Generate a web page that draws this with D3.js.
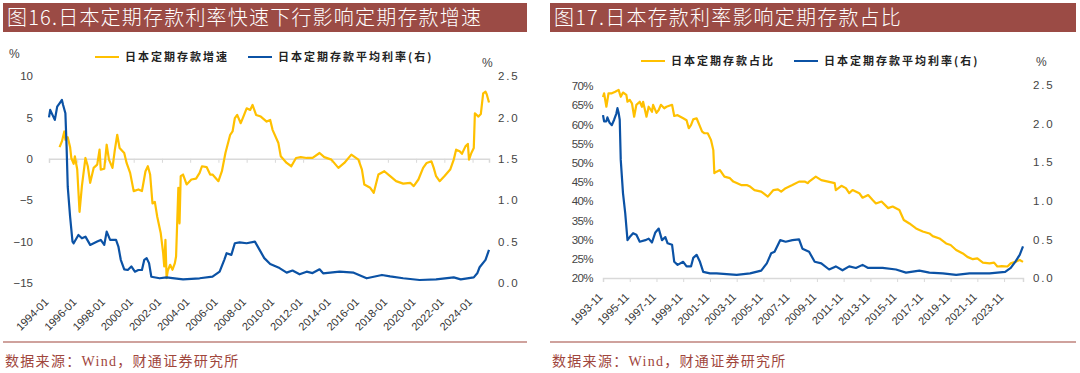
<!DOCTYPE html>
<html><head><meta charset="utf-8">
<script src="https://cdn.jsdelivr.net/npm/d3@7"></script>
<style>
body{margin:0;background:#fff;}
svg{display:block;}
</style></head><body>
<svg id="c" width="1080" height="373"></svg>
<script>
// ---------- texts ----------
const leftTitle = "图16.日本定期存款利率快速下行影响定期存款增速";
const rightTitle = "图17.日本存款利率影响定期存款占比";
const leftLegend = ["日本定期存款增速", "日本定期存款平均利率(右)"];
const rightLegend = ["日本定期存款占比", "日本定期存款平均利率(右)"];
const sourceText = "数据来源：Wind，财通证券研究所";

// ---------- tick labels ----------
const leftXTicks = ["1994-01","1996-01","1998-01","2000-01","2002-01","2004-01","2006-01","2008-01","2010-01","2012-01","2014-01","2016-01","2018-01","2020-01","2022-01","2024-01"];
const rightXTicks = ["1993-11","1995-11","1997-11","1999-11","2001-11","2003-11","2005-11","2007-11","2009-11","2011-11","2013-11","2015-11","2017-11","2019-11","2021-11","2023-11"];
const growthTicks = [10, 5, 0, -5, -10, -15];
const rateTicks = [0, 0.5, 1, 1.5, 2, 2.5];
const shareTicks = [20, 25, 30, 35, 40, 45, 50, 55, 60, 65, 70];

// ---------- series (left chart) ----------
const depositGrowth = [["1994-10",1.4],["1994-12",2.1],["1995-02",3.3],["1995-03",2.3],["1995-05",2.6],["1995-07",1.4],["1995-08",0.1],["1995-10",-0.6],["1995-11",0.3],["1996-01",-1.3],["1996-03",-6.4],["1996-05",-3.3],["1996-08",0.1],["1996-10",-0.9],["1996-12",-2.9],["1997-03",-1.1],["1997-06",-0.7],["1997-08",1.1],["1997-09",-1.3],["1997-12",-1.2],["1998-02",1.7],["1998-04",-0.1],["1998-07",-1.1],["1998-09",1.1],["1998-11",2.9],["1999-01",1.3],["1999-05",0.7],["1999-07",-0.5],["1999-10",-1.7],["2000-01",-3.9],["2000-05",-3.7],["2000-08",-3.9],["2000-09",-3.1],["2000-11",-1.5],["2001-01",-0.9],["2001-03",-1.9],["2001-05",-5.4],["2001-07",-5.2],["2001-09",-7.0],["2001-12",-9.0],["2002-02",-11.4],["2002-03",-13.0],["2002-04",-9.8],["2002-05",-14.4],["2002-06",-13.5],["2002-08",-12.8],["2002-10",-13.4],["2002-12",-12.6],["2003-01",-11.8],["2003-03",-3.5],["2003-04",-7.8],["2003-05",-2.1],["2003-07",-1.9],["2003-10",-3.1],["2004-02",-2.5],["2004-06",-2.4],["2004-09",-1.7],["2004-11",-0.9],["2005-03",-1.0],["2005-06",-1.9],["2005-08",-1.9],["2006-01",-2.7],["2006-04",-1.5],["2006-07",0.7],["2006-11",2.9],["2007-01",3.3],["2007-03",4.9],["2007-05",5.3],["2007-08",4.3],["2007-10",5.0],["2008-01",6.1],["2008-04",5.9],["2008-06",6.5],["2008-09",5.3],["2009-01",5.1],["2009-06",4.5],["2009-09",4.7],["2009-11",3.5],["2010-04",1.9],["2010-06",0.3],["2010-11",-0.5],["2011-03",-0.9],["2011-07",0.1],["2011-11",0.2],["2012-04",0.1],["2012-09",0.1],["2013-03",0.7],["2013-07",0.2],["2014-01",-0.1],["2014-07",-1.1],["2014-12",-0.5],["2015-06",0.5],["2015-12",-0.1],["2016-03",-1.3],["2016-05",-3.1],["2016-10",-3.5],["2017-01",-4.1],["2017-05",-1.9],["2017-10",-1.5],["2018-03",-2.1],["2018-08",-2.7],["2019-02",-3.0],["2019-08",-2.9],["2019-11",-3.3],["2020-03",-2.5],["2020-07",-1.1],["2020-10",-0.5],["2021-02",-0.3],["2021-04",-1.1],["2021-06",-2.1],["2021-09",-2.7],["2022-01",-2.1],["2022-06",-1.3],["2022-09",-0.1],["2022-11",1.1],["2023-02",0.9],["2023-04",0.6],["2023-07",1.5],["2023-09",1.8],["2023-10",-0.1],["2023-12",0.7],["2024-02",1.3],["2024-03",5.5],["2024-06",5.1],["2024-08",5.4],["2024-10",7.9],["2024-12",8.1],["2025-01",7.8],["2025-03",6.8]];
const leftRate = [["1994-01",2.00],["1994-02",2.09],["1994-04",2.03],["1994-06",1.97],["1994-08",2.13],["1994-10",2.17],["1994-12",2.21],["1995-01",2.15],["1995-03",2.05],["1995-04",1.65],["1995-05",1.16],["1995-07",0.80],["1995-09",0.50],["1995-10",0.48],["1996-02",0.58],["1996-05",0.54],["1996-08",0.56],["1996-12",0.46],["1997-06",0.50],["1997-09",0.52],["1997-12",0.46],["1998-02",0.62],["1998-05",0.52],["1998-10",0.52],["1998-12",0.44],["1999-02",0.28],["1999-05",0.165],["1999-08",0.157],["1999-11",0.20],["2000-02",0.137],["2000-05",0.157],["2000-08",0.157],["2000-10",0.28],["2000-12",0.30],["2001-02",0.24],["2001-04",0.076],["2001-11",0.057],["2002-05",0.068],["2002-10",0.06],["2003-07",0.044],["2004-09",0.057],["2005-08",0.076],["2006-02",0.137],["2006-06",0.28],["2006-08",0.36],["2006-12",0.34],["2007-03",0.48],["2007-07",0.49],["2008-01",0.48],["2008-08",0.50],["2008-12",0.40],["2009-04",0.30],["2009-09",0.23],["2010-05",0.18],["2010-11",0.125],["2011-04",0.15],["2011-10",0.105],["2012-04",0.137],["2012-09",0.12],["2013-03",0.165],["2013-06",0.117],["2014-08",0.137],["2015-08",0.125],["2016-07",0.057],["2017-08",0.097],["2018-03",0.08],["2019-02",0.057],["2020-04",0.036],["2021-06",0.044],["2022-09",0.068],["2023-03",0.044],["2024-02",0.068],["2024-05",0.117],["2024-07",0.19],["2024-12",0.28],["2025-03",0.40]];

// ---------- series (right chart) ----------
const depositShare = [["1993-11",67.1],["1993-12",68.1],["1994-02",64.6],["1994-04",68.1],["1994-07",68.1],["1994-10",68.5],["1995-01",69.0],["1995-03",67.2],["1995-05",68.3],["1995-08",67.7],["1995-09",65.9],["1995-11",66.4],["1996-01",65.5],["1996-03",62.0],["1996-05",65.1],["1996-08",65.9],["1996-10",64.6],["1996-11",65.9],["1997-02",62.0],["1997-04",64.6],["1997-07",63.3],["1997-08",65.1],["1997-11",63.0],["1998-01",63.75],["1998-03",65.1],["1998-06",64.2],["1998-08",64.6],["1999-01",65.1],["1999-03",62.2],["1999-06",62.4],["1999-11",61.6],["2000-02",61.1],["2000-04",59.0],["2000-06",59.8],["2000-08",61.3],["2000-11",61.6],["2001-04",58.1],["2001-06",57.7],["2001-09",57.7],["2001-12",55.9],["2002-02",53.3],["2002-03",47.3],["2002-05",47.7],["2002-08",48.1],["2002-12",46.4],["2003-05",46.0],["2003-08",45.1],["2004-03",44.2],["2004-08",44.2],["2004-11",43.8],["2005-03",42.9],["2005-09",42.5],["2006-03",41.2],["2006-08",42.9],["2006-12",43.1],["2007-03",42.5],["2007-07",43.4],["2008-01",44.2],["2008-07",45.1],["2008-12",45.1],["2009-03",44.7],["2009-04",45.1],["2009-10",46.4],["2010-03",45.5],["2010-09",45.1],["2011-03",44.7],["2011-04",42.9],["2011-09",44.0],["2012-01",43.4],["2012-04",42.1],["2012-07",42.9],["2013-01",42.1],["2013-04",40.9],["2013-09",41.6],["2014-01",40.3],["2014-04",39.4],["2014-09",39.9],["2015-03",38.2],["2015-07",38.6],["2016-01",37.7],["2016-05",35.1],["2016-10",34.2],["2017-04",32.9],["2017-10",32.1],["2018-04",31.6],["2018-07",30.9],["2019-01",30.3],["2019-07",29.0],["2019-11",28.6],["2020-04",27.3],["2020-10",26.4],["2021-02",25.5],["2021-07",24.9],["2021-11",25.1],["2022-04",24.0],["2022-10",23.8],["2023-02",24.0],["2023-05",23.0],["2023-09",23.1],["2024-02",23.0],["2024-05",23.8],["2024-09",24.2],["2025-01",24.7],["2025-04",24.2]];
const rightRate = [["1993-11",2.11],["1993-12",2.03],["1994-02",2.03],["1994-03",2.08],["1994-05",2.01],["1994-07",1.98],["1994-09",2.05],["1994-11",2.13],["1994-12",2.20],["1995-01",2.14],["1995-02",2.05],["1995-03",1.53],["1995-05",1.10],["1995-07",0.84],["1995-09",0.49],["1995-11",0.53],["1996-02",0.58],["1996-05",0.56],["1996-08",0.47],["1997-01",0.49],["1997-04",0.51],["1997-07",0.46],["1997-10",0.59],["1998-01",0.64],["1998-04",0.49],["1998-07",0.53],["1998-09",0.45],["1999-01",0.43],["1999-03",0.21],["1999-06",0.17],["1999-11",0.21],["2000-02",0.15],["2000-06",0.15],["2000-08",0.26],["2000-11",0.30],["2001-02",0.21],["2001-05",0.08],["2001-11",0.06],["2002-05",0.06],["2003-11",0.04],["2004-11",0.06],["2005-09",0.095],["2006-02",0.19],["2006-06",0.32],["2006-09",0.34],["2007-02",0.49],["2007-07",0.47],["2008-01",0.49],["2008-07",0.50],["2008-10",0.38],["2009-04",0.34],["2009-09",0.21],["2010-03",0.19],["2010-10",0.11],["2011-04",0.15],["2011-10",0.10],["2012-04",0.15],["2012-10",0.13],["2013-04",0.17],["2013-09",0.13],["2014-10",0.13],["2015-10",0.11],["2016-07",0.07],["2017-07",0.095],["2018-04",0.07],["2019-04",0.06],["2020-04",0.04],["2021-04",0.06],["2022-10",0.06],["2023-12",0.08],["2024-05",0.13],["2024-09",0.21],["2025-01",0.30],["2025-04",0.41]];

// ---------- styles ----------
const YELLOW = "#FFC000", BLUE = "#0B52A5", BAR = "#9B4B45", SRC = "#A0463C";
const NUMFONT = "'Liberation Sans', Arial, sans-serif";
const CJK = "'Noto Sans CJK SC', sans-serif";

const parse = d3.timeParse("%Y-%m");
const fmtM = d3.timeFormat("%Y-%m");
const svg = d3.select("#c");

function header(x0, x1, title) {
  svg.append("rect").attr("x", x0).attr("y", 3).attr("width", x1 - x0).attr("height", 29).attr("fill", BAR);
  svg.append("text").attr("x", x0 + 4).attr("y", 25).attr("fill", "#fff")
    .attr("font-family", CJK).attr("font-weight", 300).attr("font-size", 20)
    .attr("letter-spacing", 1.2).text(title);
  svg.append("line").attr("x1", x0).attr("x2", x1).attr("y1", 342).attr("y2", 342)
    .attr("stroke", SRC).attr("stroke-width", 1.2);
  svg.append("text").attr("x", x0 + 2).attr("y", 366).attr("fill", SRC)
    .attr("font-family", "'Liberation Serif', 'Noto Sans CJK SC', serif").attr("font-size", 14)
    .attr("letter-spacing", 1.3).text(sourceText);
}

function legend(items, y) {
  items.forEach(it => {
    svg.append("line").attr("x1", it.x).attr("x2", it.x + 24).attr("y1", y).attr("y2", y)
      .attr("stroke", it.c).attr("stroke-width", 2);
    svg.append("text").attr("x", it.x + 30).attr("y", y + 4).attr("fill", "#222")
      .attr("font-family", CJK).attr("font-weight", 700).attr("font-size", 11)
      .attr("letter-spacing", 2).text(it.t);
  });
}

function xLabels(g, x, ticks, yPos) {
  const ax = g.append("g").attr("transform", `translate(0,${yPos})`)
    .call(d3.axisBottom(x).tickValues(ticks.map(parse)).tickSize(0).tickFormat(fmtM));
  ax.select(".domain").remove();
  ax.selectAll("text")
    .attr("font-family", NUMFONT).attr("font-size", 11).attr("fill", "#333")
    .attr("text-anchor", "end").attr("x", 0).attr("y", 0).attr("dy", "0.35em")
    .attr("transform", "translate(-3,17) rotate(-45)");
}

function yAxis(g, scale, ticks, xPos, side, fmt, spacing) {
  const gen = side === "left" ? d3.axisLeft(scale) : d3.axisRight(scale);
  const ax = g.append("g").attr("transform", `translate(${xPos},0)`)
    .call(gen.tickValues(ticks).tickSize(0).tickPadding(0).tickFormat(fmt));
  ax.select(".domain").remove();
  ax.selectAll("text").attr("font-family", NUMFONT).attr("font-size", 11.5).attr("fill", "#444")
    .attr("letter-spacing", spacing || 0);
}

const lineGen = (x, y) => d3.line().x(d => x(parse(d[0]))).y(d => y(d[1]));

// ================= LEFT CHART =================
header(3, 527, leftTitle);
legend([{x: 95, c: YELLOW, t: leftLegend[0]}, {x: 248, c: BLUE, t: leftLegend[1]}], 57);
{
  const x = d3.scaleTime().domain([parse("1994-01"), parse("2025-03")]).range([49, 489]);
  const yL = d3.scaleLinear().domain([-15, 10]).range([283, 76]);
  const yR = d3.scaleLinear().domain([0, 2.5]).range([283, 76]);
  const g = svg.append("g");
  const zx = g.append("g").attr("transform", `translate(0,${yL(0)})`)
    .call(d3.axisBottom(x).tickValues(leftXTicks.map(parse)).tickSize(4).tickFormat(""));
  zx.select(".domain").attr("stroke", "#d9d9d9").attr("stroke-width", 1.5);
  zx.selectAll("line").attr("stroke", "#d9d9d9");
  xLabels(g, x, leftXTicks, yL(-15));
  yAxis(g, yL, growthTicks, 33, "left", d3.format("d"));
  yAxis(g, yR, rateTicks, 498, "right", d3.format(".1f"), 1.8);
  g.append("text").attr("x", 9).attr("y", 58).attr("font-family", NUMFONT).attr("font-size", 12).attr("fill", "#444").text("%");
  g.append("text").attr("x", 482).attr("y", 67).attr("font-family", NUMFONT).attr("font-size", 12).attr("fill", "#444").text("%");
  g.append("path").datum(depositGrowth).attr("d", lineGen(x, yL)).attr("fill", "none").attr("stroke", YELLOW).attr("stroke-width", 2.2).attr("stroke-linejoin", "round");
  g.append("path").datum(leftRate).attr("d", lineGen(x, yR)).attr("fill", "none").attr("stroke", BLUE).attr("stroke-width", 2.2).attr("stroke-linejoin", "round");
}

// ================= RIGHT CHART =================
header(550, 1076, rightTitle);
legend([{x: 641, c: YELLOW, t: rightLegend[0]}, {x: 794, c: BLUE, t: rightLegend[1]}], 61);
{
  const x = d3.scaleTime().domain([parse("1993-11"), parse("2025-04")]).range([603, 1023]);
  const yL = d3.scaleLinear().domain([20, 70]).range([278, 86]);
  const yR = d3.scaleLinear().domain([0, 2.5]).range([278, 85]);
  const g = svg.append("g");
  const bx = g.append("g").attr("transform", `translate(0,${yL(20)})`)
    .call(d3.axisBottom(x).tickValues(rightXTicks.map(parse)).tickSize(4).tickFormat(""));
  bx.select(".domain").attr("stroke", "#d9d9d9").attr("stroke-width", 1.5);
  bx.selectAll("line").attr("stroke", "#d9d9d9");
  xLabels(g, x, rightXTicks, yL(20));
  yAxis(g, yL, shareTicks, 593, "left", d => d + "%", -0.6);
  yAxis(g, yR, rateTicks, 1033, "right", d3.format(".1f"), 1.8);
  g.append("text").attr("x", 1036).attr("y", 66).attr("font-family", NUMFONT).attr("font-size", 12).attr("fill", "#444").text("%");
  g.append("path").datum(depositShare).attr("d", lineGen(x, yL)).attr("fill", "none").attr("stroke", YELLOW).attr("stroke-width", 2.2).attr("stroke-linejoin", "round");
  g.append("path").datum(rightRate).attr("d", lineGen(x, yR)).attr("fill", "none").attr("stroke", BLUE).attr("stroke-width", 2.2).attr("stroke-linejoin", "round");
}
</script>
</body></html>
